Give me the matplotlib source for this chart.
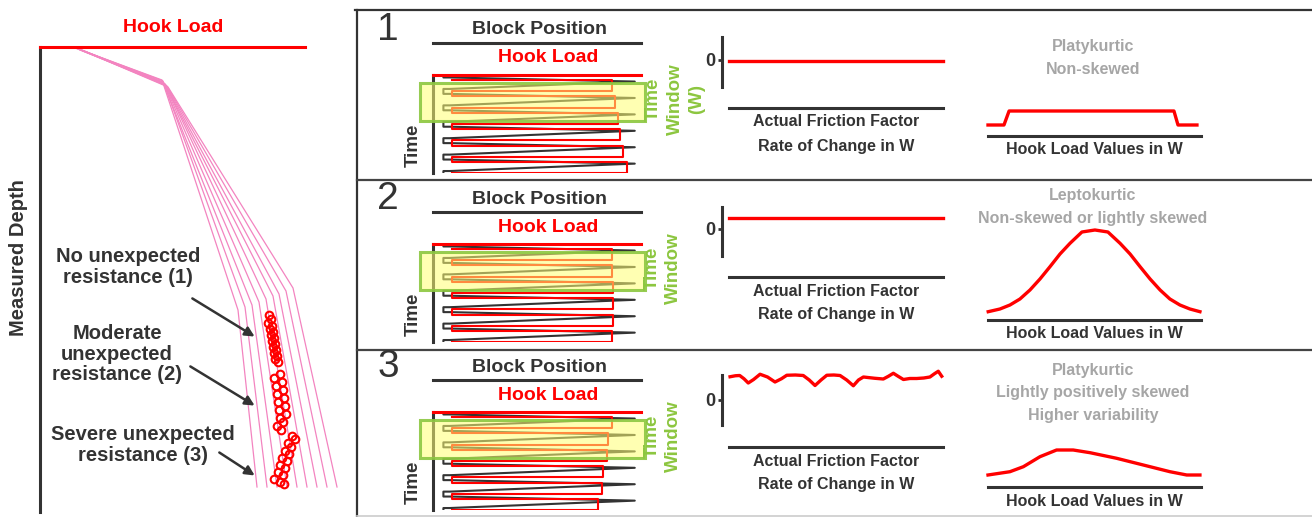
import numpy as np
import matplotlib
matplotlib.use("Agg")
import matplotlib.pyplot as plt
from matplotlib.patches import Rectangle

plt.rcParams['font.family'] = ['Liberation Sans', 'DejaVu Sans']

W, H = 1312, 517
DARK = '#333333'
RED = '#ff0000'
PINK = '#f384c0'
GREEN = '#8cc63f'
GRAY = '#a6a6a6'

# ---------------- left panel data (hook load vs measured depth) ----------------
pink_top_hook = [35, 36, 38, 39, 40, 42, 43, 44, 46]
pink_top_depth = [1, 1, 2, 2, 3, 3, 4, 4, 5]
pink_knee_hook = [122, 123, 123, 124, 125, 125, 126, 127, 128]
pink_knee_depth = [33, 34, 35, 36, 37, 37, 38, 39, 40]
pink_break_hook = [198, 205, 212, 219, 226, 233, 239, 246, 253]
pink_break_depth = [263, 260, 258, 255, 252, 249, 247, 244, 241]
pink_bottom_hook = [217, 227, 237, 247, 257, 267, 277, 287, 297]
pink_bottom_depth = [440, 440, 440, 440, 440, 440, 440, 440, 440]

pts1_depth = [268, 272, 276, 279, 282, 285, 288, 291, 294, 297, 300, 303, 306, 309, 312, 315]
pts1_load = [229, 231, 228, 232, 230, 233, 231, 234, 232, 235, 233, 236, 234, 237, 235, 238]
pts2_depth = [327, 331, 335, 339, 343, 347, 351, 355, 359, 363, 367, 371, 375, 379, 383]
pts2_load = [240, 234, 242, 236, 243, 237, 244, 238, 245, 239, 246, 240, 243, 237, 241]
pts3_depth = [389, 392, 396, 400, 404, 407, 411, 414, 418, 421, 425, 428, 432, 435, 437]
pts3_load = [252, 255, 248, 251, 245, 249, 242, 247, 240, 245, 238, 243, 234, 240, 244]

annotations = ["No unexpected\nresistance (1)",
               "Moderate\nunexpected\nresistance (2)",
               "Severe unexpected\nresistance (3)"]

# ---------------- block position / hook load sketches ----------------
n_rows = 6
block_left, block_inner, block_right = 0.05, 0.08, 0.97
hook_left = 0.09
hook_right = [
    [0.859, 0.875, 0.891, 0.899, 0.915, 0.931],
    [0.859, 0.859, 0.867, 0.867, 0.867, 0.859],
    [0.859, 0.843, 0.835, 0.819, 0.811, 0.795],
]
window_t = (0.18, 2.5)
window_labels = ["Time\nWindow\n(W)", "Time\nWindow", "Time\nWindow"]

# ---------------- friction factor rate of change ----------------
flat_x = [0, 1]
flat_y = [[-0.05, -0.05], [0.44, 0.44]]
wave_x = [0.005, 0.03, 0.05, 0.07, 0.09, 0.115, 0.145, 0.18, 0.215, 0.245, 0.27, 0.31,
          0.347, 0.375, 0.402, 0.43, 0.457, 0.49, 0.519, 0.55, 0.581, 0.605, 0.628,
          0.68, 0.721, 0.745, 0.768, 0.79, 0.815, 0.845, 0.877, 0.91, 0.939, 0.96,
          0.978, 0.994]
wave_y = [0.93, 0.97, 0.98, 0.85, 0.68, 0.82, 1.03, 0.92, 0.72, 0.85, 0.99, 1.0,
          0.98, 0.8, 0.58, 0.8, 0.99, 1.0, 0.98, 0.8, 0.57, 0.8, 0.92,
          0.87, 0.84, 0.95, 1.07, 0.95, 0.82, 0.86, 0.86, 0.88, 0.92, 1.05,
          1.15, 0.95]

# ---------------- hook load distributions ----------------
dist1_x = [0, 0.075, 0.099, 0.873, 0.892, 0.981]
dist1_y = [11, 11, 25, 25, 11, 11]
dist2_x = [0.001, 0.056, 0.103, 0.150, 0.197, 0.244, 0.291, 0.338, 0.385, 0.441,
           0.502, 0.563, 0.620, 0.667, 0.714, 0.761, 0.808, 0.854, 0.901, 0.948, 0.995]
dist2_y = [8.3, 11, 15, 21, 30, 41, 53.3, 66, 76.7, 88,
           90, 88, 76.7, 66, 53.3, 41, 30, 21, 15, 11, 8.3]
dist3_x = [0, 0.103, 0.166, 0.244, 0.322, 0.4, 0.479, 0.604, 0.729, 0.854, 0.933, 0.995]
dist3_y = [12, 15.3, 20.3, 30.3, 37, 37, 34.3, 28.7, 22, 15.3, 12, 12]

dist_titles = ["Platykurtic\nNon-skewed",
               "Leptokurtic\nNon-skewed or lightly skewed",
               "Platykurtic\nLightly positively skewed\nHigher variability"]


def px_axes(x0, y0, x1, y1, **kw):
    return fig.add_axes([x0 / W, 1 - y1 / H, (x1 - x0) / W, (y1 - y0) / H], **kw)


def bare(ax, keep=()):
    for name, sp in ax.spines.items():
        sp.set_visible(name in keep)
        sp.set_linewidth(2.2)
        sp.set_color(DARK)
    ax.set_xticks([])
    ax.set_yticks([])
    ax.patch.set_visible(False)


fig = plt.figure(figsize=(W / 100, H / 100), dpi=100)

# background layer for frames and free text (pixel coordinates)
bg = fig.add_axes([0, 0, 1, 1])
bg.set_xlim(0, W)
bg.set_ylim(H, 0)
bg.axis('off')

# frame of the right-hand panels
bg.plot([355, W], [10, 10], color=DARK, lw=1.6)
bg.plot([357, 357], [10, H], color=DARK, lw=1.6)
for y in (180, 350):
    bg.plot([357, W], [y, y], color='#444444', lw=1.6)
bg.plot([357, W], [516, 516], color='#cccccc', lw=1.2)

# ---------------- left panel ----------------
axl = px_axes(40, 47, 305, 512)
bare(axl, keep=('left', 'top'))
axl.spines['top'].set_color(RED)
axl.set_xlim(0, 265)
axl.set_ylim(465, 0)
for i in range(len(pink_top_hook)):
    axl.plot([pink_top_hook[i], pink_knee_hook[i], pink_break_hook[i], pink_bottom_hook[i]],
             [pink_top_depth[i], pink_knee_depth[i], pink_break_depth[i], pink_bottom_depth[i]],
             color=PINK, lw=0.9, clip_on=False)
for lo, de in ((pts1_load, pts1_depth), (pts2_load, pts2_depth), (pts3_load, pts3_depth)):
    axl.plot(lo, de, 'o', ms=5.5, mfc='none', mec=RED, mew=1.5, clip_on=False)

bg.text(173, 27, "Hook Load", ha='center', va='center',
        color=RED, fontsize=14, fontweight='bold')
bg.text(19, 258, "Measured Depth", rotation=90, ha='center', va='center',
        fontsize=14.5, fontweight='bold', color=DARK)

ann_text_pos = [(88, 220), (77, 307), (103, 398)]
ann_tail = [(150, 250), (148, 318), (177, 404)]
ann_head = [(217, 291), (217, 360), (217, 430)]
for s, tp, tl, hd in zip(annotations, ann_text_pos, ann_tail, ann_head):
    axl.text(tp[0], tp[1], s, ha='center', va='center', fontsize=14.5,
             fontweight='bold', color=DARK, linespacing=1.1)
    axl.annotate("", xy=hd, xytext=tl,
                 arrowprops=dict(arrowstyle='-|>', color=DARK, lw=1.8, mutation_scale=14))

# ---------------- right-hand panels ----------------
offsets = [0, 169, 337]
mid_axes_box = [(37, 87), (207, 256), (375, 425)]
mid_zero = [60, 229, 400]
mid_line = [108, 277, 447]
mid_text_y = [(122, 146), (291, 315), (462, 484)]
dist_box = [(100, 136), (220, 320), (440, 487)]
dist_data = [(dist1_x, dist1_y), (dist2_x, dist2_y), (dist3_x, dist3_y)]
dist_title_y = [58, 207, 393]
dist_label_y = [150, 333, 502]

for k in range(3):
    off = offsets[k]

    bg.text(388, 30 + off, str(k + 1), ha='center', va='center', fontsize=28, color=DARK)
    bg.text(540, 30 + off, "Block Position", ha='center', va='center', fontsize=14,
            fontweight='bold', color=DARK)
    bg.plot([433, 641], [43 + off, 43 + off], color=DARK, lw=2.2)
    bg.text(548, 58 + off, "Hook Load", ha='center', va='center', fontsize=14,
            fontweight='bold', color=RED)

    # zig-zag sketch of block position and hook load over time
    ax = px_axes(433, 75 + off, 641, 173 + off)
    bare(ax, keep=('left', 'top'))
    ax.spines['top'].set_color(RED)
    ax.set_xlim(0, 1)
    ax.set_ylim(5.67, -0.3)

    bx, bt = [], []
    for i in range(-1, n_rows):
        bx += [block_right, block_inner, block_left, block_left, block_inner]
        bt += [i + 0.1, i + 0.55, i + 0.55, i + 0.85, i + 0.85]
    bx.append(block_right)
    bt.append(n_rows + 0.1)
    ax.plot(bx, bt, color=DARK, lw=1.5)

    hx, ht = [], []
    for i in range(n_rows):
        r = hook_right[k][i]
        hx += [hook_left, r, r, hook_left]
        ht += [i, i, i + 0.68, i + 0.68]
    ax.plot(hx, ht, color=RED, lw=1.5)

    ax.add_patch(Rectangle((-0.0625, window_t[0]), 1.0815, window_t[1] - window_t[0],
                           facecolor=(1, 1, 0.45, 0.55), edgecolor=(0.55, 0.78, 0.25, 0.9),
                           lw=2.2, clip_on=False, zorder=5))
    bg.text(413, 145 + off, "Time", rotation=90, ha='center', va='center',
            fontsize=13.5, fontweight='bold', color=DARK)

    # window label sits on top of the window box, so put it at figure level
    wx = 675 if k == 0 else 663
    fig.text(wx / W, 1 - (99 + off) / H, window_labels[k], rotation=90,
             ha='center', va='center', fontsize=13.5, fontweight='bold', color=GREEN,
             linespacing=1.35, multialignment='center')

    # actual friction factor rate of change
    t0, t1 = mid_axes_box[k]
    z = mid_zero[k]
    axm = px_axes(729, t0, 943, t1)
    bare(axm, keep=('left', 'bottom'))
    axm.set_xlim(0, 1)
    axm.set_ylim(-(t1 - z) / 25, (z - t0) / 25)
    axm.spines['left'].set_position(('outward', 5))
    axm.spines['bottom'].set_position(('outward', (mid_line[k] - t1) * 0.72))
    axm.set_yticks([0])
    axm.set_yticklabels(['0'], fontweight='bold')
    axm.tick_params(axis='y', length=3, width=2, color=DARK, labelsize=13,
                    labelcolor=DARK, pad=2)
    if k < 2:
        axm.plot(flat_x, flat_y[k], color=RED, lw=2.4, clip_on=False)
    else:
        axm.plot(wave_x, wave_y, color=RED, lw=2.4, clip_on=False)
    bg.text(836, mid_text_y[k][0], "Actual Friction Factor", ha='center', va='center',
            fontsize=11.5, fontweight='bold', color=DARK)
    bg.text(836, mid_text_y[k][1], "Rate of Change in W", ha='center', va='center',
            fontsize=11.5, fontweight='bold', color=DARK)

    # hook load distribution within the window
    d0, d1 = dist_box[k]
    axd = px_axes(988, d0, 1201, d1)
    bare(axd, keep=('bottom',))
    axd.set_xlim(0, 1)
    axd.set_ylim(0, d1 - d0)
    dx, dy = dist_data[k]
    axd.plot(dx, dy, color=RED, lw=2.4, clip_on=False)
    bg.text(1093, dist_title_y[k], dist_titles[k], ha='center', va='center',
            fontsize=11.5, fontweight='bold', color=GRAY, linespacing=1.6)
    bg.text(1094, dist_label_y[k], "Hook Load Values in W", ha='center', va='center',
            fontsize=11.5, fontweight='bold', color=DARK)

fig.savefig("out.png", dpi=100)
